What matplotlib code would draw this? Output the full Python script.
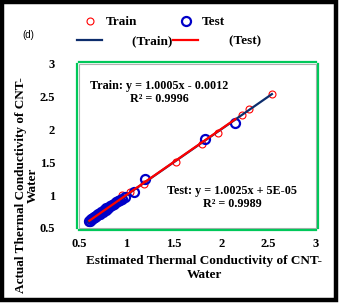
import matplotlib
matplotlib.use("Agg")
import matplotlib.pyplot as plt
from matplotlib.lines import Line2D
from matplotlib.patches import Rectangle

# ---- data ----
train_est = [0.60, 0.62, 0.63, 0.64, 0.65, 0.66, 0.67, 0.68, 0.69, 0.70, 0.71, 0.72,
             0.74, 0.75, 0.77, 0.78, 0.80, 0.82, 0.84, 0.86, 0.88, 0.90, 0.93, 0.955,
             1.04, 1.19, 1.52, 1.80, 1.97, 2.22, 2.29, 2.535]
train_act = [0.59, 0.62, 0.63, 0.645, 0.65, 0.66, 0.67, 0.685, 0.69, 0.70, 0.71, 0.725,
             0.74, 0.75, 0.77, 0.78, 0.80, 0.82, 0.84, 0.86, 0.88, 0.90, 0.93, 1.00,
             1.04, 1.17, 1.51, 1.78, 1.95, 2.22, 2.31, 2.53]
test_est = [0.61, 0.62, 0.63, 0.64, 0.65, 0.66, 0.67, 0.68, 0.69, 0.70, 0.71, 0.72,
            0.73, 0.75, 0.76, 0.78, 0.79, 0.81, 0.83, 0.85, 0.87, 0.89, 0.91, 0.93,
            0.95, 0.99, 1.08, 1.20, 1.83, 2.15]
test_act = [0.60, 0.61, 0.63, 0.64, 0.65, 0.66, 0.67, 0.68, 0.70, 0.71, 0.71, 0.72,
            0.74, 0.75, 0.77, 0.78, 0.80, 0.81, 0.83, 0.85, 0.87, 0.89, 0.91, 0.92,
            0.94, 0.97, 1.05, 1.24, 1.85, 2.10]
train_fit = (1.0005, -0.0012)
test_fit = (1.0025, 5e-05)
ticks = [0.5, 1, 1.5, 2, 2.5, 3]
tick_labels = ["0.5", "1", "1.5", "2", "2.5", "3"]

serif = "Liberation Serif"
plt.rcParams["font.family"] = [serif, "DejaVu Serif"]
plt.rcParams["font.weight"] = "bold"

W, H = 339, 303
fig = plt.figure(figsize=(W / 100, H / 100), dpi=100)

ax = fig.add_axes([79 / W, 1 - 228 / H, (316 - 79) / W, (228 - 63.5) / H])
ax.set_xlim(0.5, 3)
ax.set_ylim(0.5, 3)

red = "#ff0000"
blue = "#0000c8"
navy = "#0d2d6c"

ax.plot(train_est, train_act, ls="none", marker="o", ms=5, mfc="none", mec=red, mew=0.8, zorder=2)
ax.plot(test_est, test_act, ls="none", marker="o", ms=6.5, mfc="none", mec=blue, mew=1.6, zorder=3)

x0, x1 = min(train_est), max(train_est)
ax.plot([x0, x1], [train_fit[0] * x0 + train_fit[1], train_fit[0] * x1 + train_fit[1]],
        color=navy, lw=1.6, zorder=4)
t0, t1 = min(test_est), max(test_est)
ax.plot([t0, t1], [test_fit[0] * t0 + test_fit[1], test_fit[0] * t1 + test_fit[1]],
        color=red, lw=1.6, zorder=5)

ax.set_xticks(ticks)
ax.set_xticklabels(tick_labels)
ax.set_yticks(ticks)
ax.set_yticklabels(tick_labels)
ax.tick_params(length=0, labelsize=9)
ax.tick_params(axis="y", pad=16)
ax.tick_params(axis="x", pad=6)

for s in ax.spines.values():
    s.set_color("#00c85a")
    s.set_linewidth(1.6)
    s.set_position(("outward", 1.2))
ax.add_patch(Rectangle((0, 0), 1, 1, transform=ax.transAxes, fill=False,
                       ec="#b0b0b0", lw=0.8, clip_on=False, zorder=1))

ax.text(0.338, 0.824, "Train: y = 1.0005x - 0.0012\nR² = 0.9996", transform=ax.transAxes,
        ha="center", va="center", multialignment="center", fontsize=8.7,
        linespacing=1.1)
ax.text(0.646, 0.188, "Test: y = 1.0025x + 5E-05\nR² = 0.9989", transform=ax.transAxes,
        ha="center", va="center", multialignment="center", fontsize=8.7,
        linespacing=1.1)

fig.text(204 / W, 1 - 268 / H, "Estimated Thermal Conductivity of CNT-\nWater",
         ha="center", va="center", multialignment="center", fontsize=9.5,
         linespacing=1.2)
fig.text(27 / W, 1 - 185 / H, "Actual Thermal Conductivity of CNT-\nWater", rotation=90,
         ha="center", va="center", multialignment="center", fontsize=9.5,
         linespacing=1.0)

fig.text(28 / W, 1 - 35 / H, "(d)", ha="center", va="center", fontsize=7,
         fontfamily="Liberation Sans", fontweight="normal")

h_tr = Line2D([], [], ls="none", marker="o", ms=5, mfc="none", mec=red, mew=0.8)
h_trl = Line2D([], [], color=navy, lw=1.6)
h_te = Line2D([], [], ls="none", marker="o", ms=6.5, mfc="none", mec=blue, mew=1.6)
h_tel = Line2D([], [], color=red, lw=1.6)
leg = fig.legend([h_tr, h_trl, h_te, h_tel],
                 ["Train", "        (Train)", "Test", "        (Test)"],
                 ncol=2, loc="upper left", bbox_to_anchor=(77 / W, 1 - 16 / H),
                 frameon=False, borderpad=0, borderaxespad=0, handlelength=1.9,
                 handletextpad=0.25, columnspacing=0.05, labelspacing=0.55,
                 prop={"family": serif, "weight": "bold", "size": 9.5})

fig.add_artist(Rectangle((1.5 / W, 1 - 299.5 / H), 334.5 / W, 297.5 / H,
                         transform=fig.transFigure, fill=False, ec="black", lw=3.2))

fig.savefig("out.png", dpi=100)
